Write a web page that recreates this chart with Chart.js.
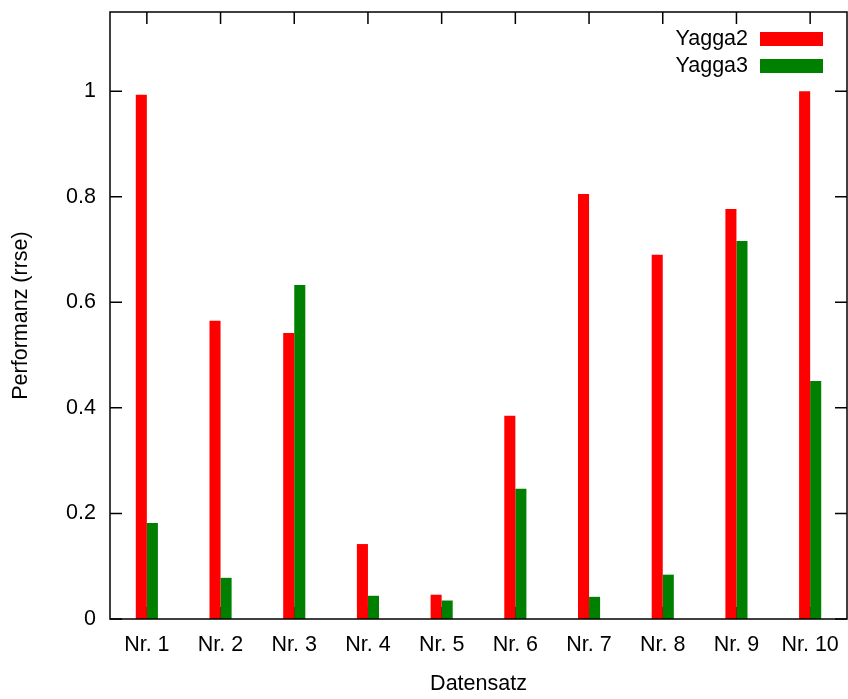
<!DOCTYPE html>
<html>
<head>
<meta charset="utf-8">
<script src="https://cdn.jsdelivr.net/npm/chart.js@4.4.1/dist/chart.umd.min.js"></script>
<style>
  html, body { margin: 0; padding: 0; background: #fff; }
  canvas { display: block; }
</style>
</head>
<body>
<canvas id="grafico" width="848" height="699"></canvas>
<script>
// Daten
const datensaetze = ['Nr. 1', 'Nr. 2', 'Nr. 3', 'Nr. 4', 'Nr. 5', 'Nr. 6', 'Nr. 7', 'Nr. 8', 'Nr. 9', 'Nr. 10'];
const yagga2 = [0.993, 0.565, 0.542, 0.142, 0.046, 0.385, 0.805, 0.690, 0.777, 1.000];
const yagga3 = [0.182, 0.078, 0.633, 0.044, 0.035, 0.247, 0.042, 0.084, 0.716, 0.451];
const yTicks = [0, 0.2, 0.4, 0.6, 0.8, 1];

const schrift = { family: '"Liberation Sans", Arial, sans-serif', size: 21.5 };

// Rahmen, Ticks nach innen und Legende im gnuplot-Stil
const gnuplotStil = {
    id: 'gnuplotStil',
    beforeDatasetsDraw(chart) {
        const ctx = chart.ctx;
        const a = chart.chartArea;
        const x = chart.scales.x, y = chart.scales.y;
        const len = 12;
        ctx.save();
        ctx.strokeStyle = '#000';
        ctx.lineWidth = 1.5;
        ctx.beginPath();
        yTicks.forEach(v => {
            const py = y.getPixelForValue(v);
            ctx.moveTo(a.left, py); ctx.lineTo(a.left + len, py);
            ctx.moveTo(a.right, py); ctx.lineTo(a.right - len, py);
        });
        datensaetze.forEach((_, i) => {
            const px = x.getPixelForValue(i);
            ctx.moveTo(px, a.top); ctx.lineTo(px, a.top + len);
            ctx.moveTo(px, a.bottom); ctx.lineTo(px, a.bottom - len);
        });
        ctx.stroke();
        ctx.restore();
    },
    afterDatasetsDraw(chart) {
        const ctx = chart.ctx;
        const a = chart.chartArea;
        ctx.save();
        ctx.strokeStyle = '#000';
        ctx.lineWidth = 1.5;
        ctx.strokeRect(a.left, a.top, a.right - a.left, a.bottom - a.top);
        // Legende
        ctx.font = schrift.size + 'px ' + schrift.family;
        ctx.textAlign = 'right';
        ctx.textBaseline = 'middle';
        chart.data.datasets.forEach((ds, i) => {
            const cy = a.top + 27 + i * 27;
            ctx.fillStyle = '#000';
            ctx.fillText(ds.label, a.right - 99, cy);
            ctx.fillStyle = ds.backgroundColor;
            ctx.fillRect(a.right - 87, cy - 7, 63, 14);
        });
        ctx.restore();
    }
};

new Chart(document.getElementById('grafico'), {
    type: 'bar',
    data: {
        labels: datensaetze,
        datasets: [
            { label: 'Yagga2', data: yagga2, backgroundColor: '#ff0000', borderWidth: 0 },
            { label: 'Yagga3', data: yagga3, backgroundColor: '#008000', borderWidth: 0 }
        ]
    },
    options: {
        responsive: false,
        animation: false,
        devicePixelRatio: 1,
        categoryPercentage: 0.3,
        barPercentage: 1.0,
        layout: { padding: { left: 0, right: 1, top: 12, bottom: 0 } },
        plugins: {
            legend: { display: false },
            tooltip: { enabled: false }
        },
        scales: {
            x: {
                grid: { display: false, drawTicks: false },
                border: { display: false },
                ticks: { color: '#000', font: schrift, padding: 13, maxRotation: 0 },
                title: { display: true, text: 'Datensatz', color: '#000', font: schrift, padding: { top: 0, bottom: 2 } },
                afterFit(scale) {
                    scale.height = 80;
                    scale.paddingLeft = 0;
                    scale.paddingRight = 0;
                }
            },
            y: {
                min: 0,
                max: 1.15,
                grid: { display: false, drawTicks: false },
                border: { display: false },
                ticks: {
                    stepSize: 0.2,
                    includeBounds: false,
                    color: '#000',
                    font: schrift,
                    padding: 14,
                    callback: v => Math.round(v * 10) / 10
                },
                title: { display: true, text: 'Performanz (rrse)', color: '#000', font: schrift, padding: { top: 8, bottom: 0 } },
                afterFit(scale) {
                    scale.width = 110;
                    scale.paddingTop = 0;
                    scale.paddingBottom = 0;
                }
            }
        }
    },
    plugins: [gnuplotStil]
});
</script>
</body>
</html>
